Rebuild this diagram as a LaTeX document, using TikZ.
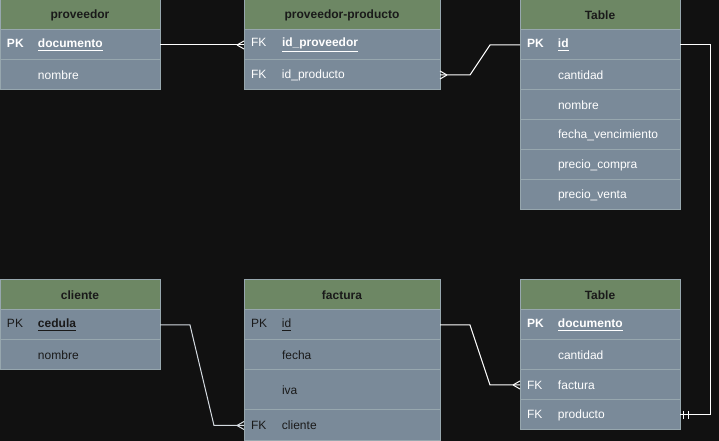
\documentclass[tikz,border=0pt]{standalone}
\usepackage{fontspec}
\setmainfont{Liberation Sans}
\usetikzlibrary{positioning}
\definecolor{BgDark}{HTML}{111111}
\definecolor{HeadGreen}{HTML}{6D8764}
\definecolor{RowGrey}{HTML}{7A8A99}
\definecolor{EdgeGrey}{HTML}{97A7AE}
\definecolor{TextDark}{HTML}{1A1A1A}
\definecolor{LinkGrey}{HTML}{D4DAE0}
\newcommand{\fieldkey}[1]{\makebox[23.25pt][l]{#1}}

\begin{document}
\begin{tikzpicture}[x=0.75pt, y=-0.75pt,
    every node/.style={font=\fontsize{9pt}{11pt}\selectfont},
    cell/.style={draw=EdgeGrey, line width=0.75pt, outer sep=0pt, inner ysep=0pt, minimum height=22.5pt},
    head/.style={cell, fill=HeadGreen, text=TextDark, align=center, font=\fontsize{9pt}{11pt}\selectfont\bfseries},
    row/.style={cell, fill=RowGrey, align=left, inner xsep=5.25pt},
    narrow/.style={minimum width=120pt, text width=109.5pt},
    wide/.style={minimum width=147pt, text width=136.5pt},
    light/.style={text=white},
    dark/.style={text=TextDark},
    conn/.style={draw=white, line width=0.75pt}
  ]
    \useasboundingbox (0,0) rectangle (719,441);
    \fill[BgDark] (0,0) rectangle (719,441);

    % proveedor
    \node[head, narrow, anchor=north west] (prov) at (0,0) {proveedor};
    \node[row, narrow, light, below=0pt of prov] (prov-doc) {\fieldkey{\bfseries PK}\textbf{\underline{documento}}};
    \node[row, narrow, light, below=0pt of prov-doc] (prov-nom) {\fieldkey{}nombre};

    % proveedor-producto
    \node[head, wide, anchor=north west] (pp) at (244,0) {proveedor-producto};
    \node[row, wide, light, below=0pt of pp] (pp-prov) {\fieldkey{FK}\textbf{\underline{id\_proveedor}}};
    \node[row, wide, light, below=0pt of pp-prov] (pp-prod) {\fieldkey{FK}id\_producto};

    % Table (producto)
    \node[head, narrow, anchor=north west] (t1) at (520,0) {Table};
    \node[row, narrow, light, below=0pt of t1] (t1-id) {\fieldkey{\bfseries PK}\textbf{\underline{id}}};
    \node[row, narrow, light, below=0pt of t1-id] (t1-cant) {\fieldkey{}cantidad};
    \node[row, narrow, light, below=0pt of t1-cant] (t1-nom) {\fieldkey{}nombre};
    \node[row, narrow, light, below=0pt of t1-nom] (t1-fecha) {\fieldkey{}fecha\_vencimiento};
    \node[row, narrow, light, below=0pt of t1-fecha] (t1-compra) {\fieldkey{}precio\_compra};
    \node[row, narrow, light, below=0pt of t1-compra] (t1-venta) {\fieldkey{}precio\_venta};

    % cliente
    \node[head, narrow, anchor=north west] (cli) at (0,280) {cliente};
    \node[row, narrow, dark, below=0pt of cli] (cli-ced) {\fieldkey{PK}\textbf{\underline{cedula}}};
    \node[row, narrow, dark, below=0pt of cli-ced] (cli-nom) {\fieldkey{}nombre};

    % factura
    \node[head, wide, anchor=north west] (fac) at (244,280) {factura};
    \node[row, wide, dark, below=0pt of fac] (fac-id) {\fieldkey{PK}\underline{id}};
    \node[row, wide, dark, below=0pt of fac-id] (fac-fecha) {\fieldkey{}fecha};
    \node[row, wide, dark, minimum height=30pt, below=0pt of fac-fecha] (fac-iva) {\fieldkey{}iva};
    \node[row, wide, dark, minimum height=23.25pt, below=0pt of fac-iva] (fac-cli) {\fieldkey{FK}cliente};

    % Table (detalle)
    \node[head, narrow, anchor=north west] (t2) at (520,280) {Table};
    \node[row, narrow, light, below=0pt of t2] (t2-doc) {\fieldkey{\bfseries PK}\textbf{\underline{documento}}};
    \node[row, narrow, light, below=0pt of t2-doc] (t2-cant) {\fieldkey{}cantidad};
    \node[row, narrow, light, below=0pt of t2-cant] (t2-fac) {\fieldkey{FK}factura};
    \node[row, narrow, light, below=0pt of t2-fac] (t2-prod) {\fieldkey{FK}producto};

    % relaciones
    \draw[conn] (prov-doc.east) -- (pp-prov.west);
    \draw[conn] ([xshift=-5.25pt]pp-prov.west) -- ([yshift=3pt]pp-prov.west)
                ([xshift=-5.25pt]pp-prov.west) -- ([yshift=-3pt]pp-prov.west);

    \draw[conn] (pp-prod.east) -- ++(30,0) -- ([xshift=-22.5pt]t1-id.west) -- (t1-id.west);
    \draw[conn] ([xshift=5.25pt]pp-prod.east) -- ([yshift=3pt]pp-prod.east)
                ([xshift=5.25pt]pp-prod.east) -- ([yshift=-3pt]pp-prod.east);

    \draw[conn, draw=LinkGrey] (cli-ced.east) -- ++(30,0) -- ([xshift=-22.5pt]fac-cli.west) -- (fac-cli.west);
    \draw[conn, draw=LinkGrey] ([xshift=-5.25pt]fac-cli.west) -- ([yshift=3pt]fac-cli.west)
                ([xshift=-5.25pt]fac-cli.west) -- ([yshift=-3pt]fac-cli.west);

    \draw[conn] (fac-id.east) -- ++(30,0) -- ([xshift=-22.5pt]t2-fac.west) -- (t2-fac.west);
    \draw[conn] ([xshift=-5.25pt]t2-fac.west) -- ([yshift=3pt]t2-fac.west)
                ([xshift=-5.25pt]t2-fac.west) -- ([yshift=-3pt]t2-fac.west);

    \draw[conn] (t1-id.east) -- ++(30,0) |- (t2-prod.east);
    \draw[conn] ([xshift=2.25pt,yshift=3pt]t2-prod.east) -- ++(0,8)
                ([xshift=6pt,yshift=3pt]t2-prod.east) -- ++(0,8);
  \end{tikzpicture}
\end{document}
